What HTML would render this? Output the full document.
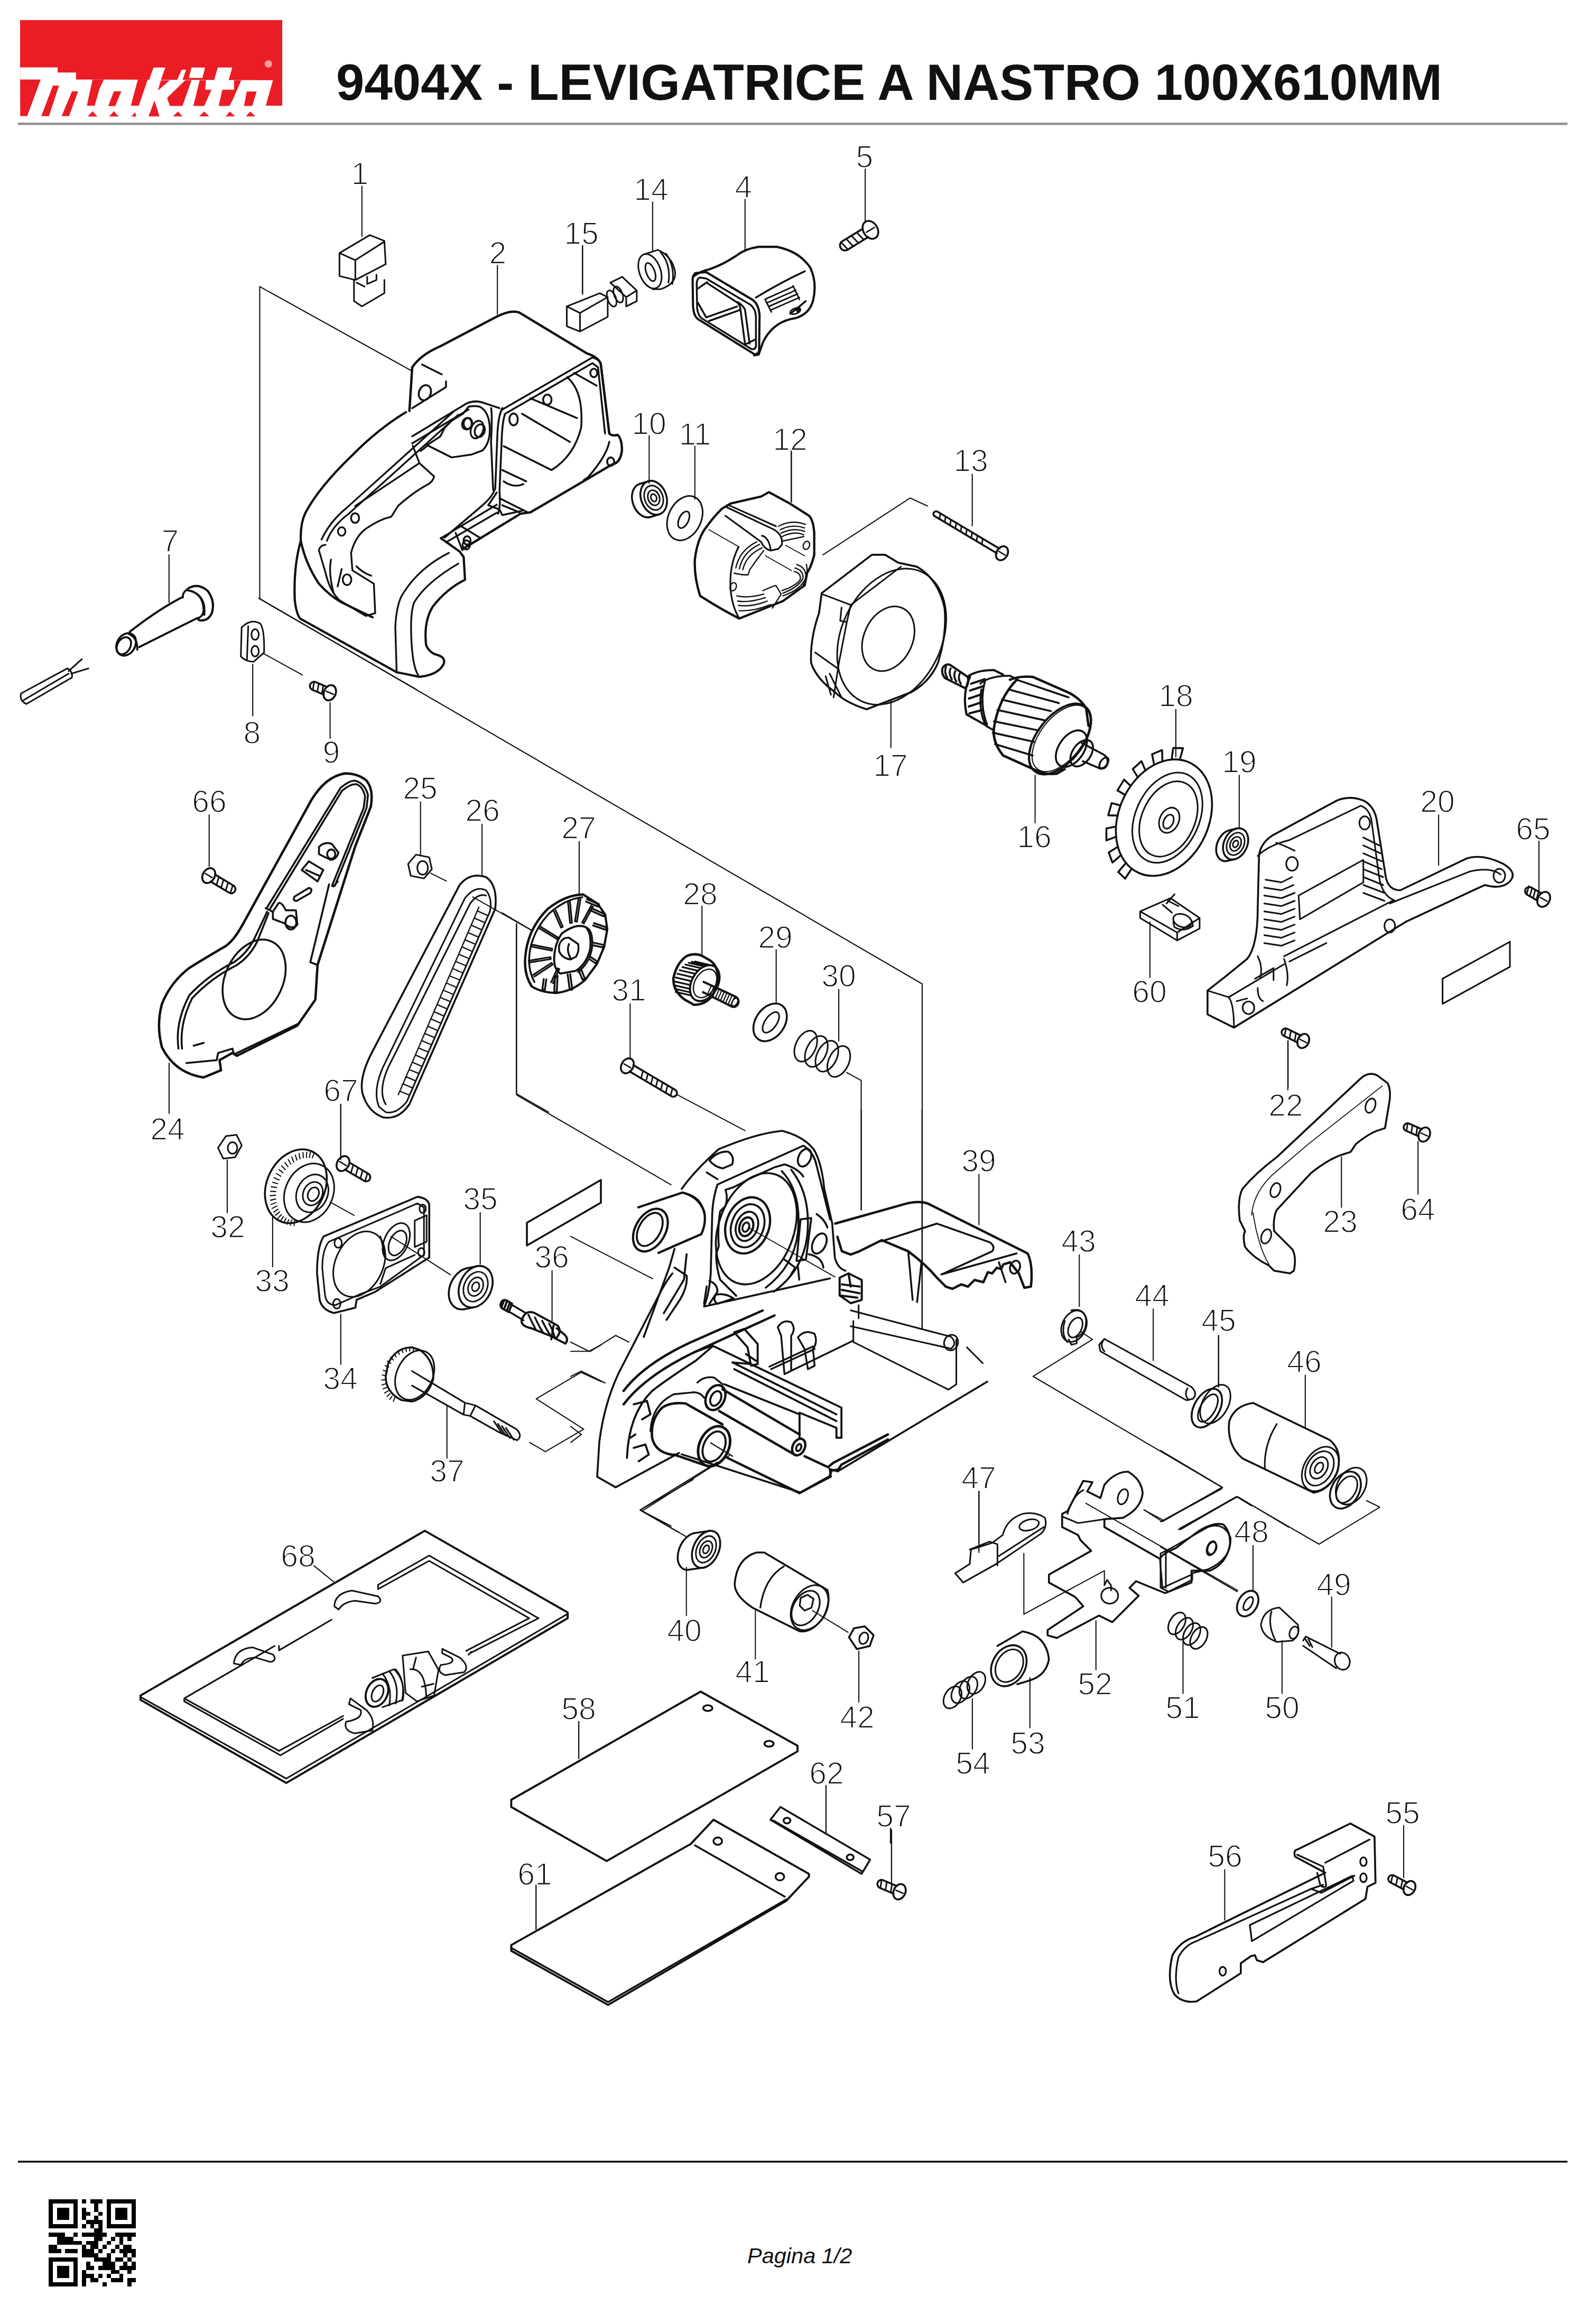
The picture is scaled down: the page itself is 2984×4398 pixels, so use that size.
<!DOCTYPE html>
<html><head><meta charset="utf-8">
<style>
html,body{margin:0;padding:0;background:#fff;}
body{width:2984px;height:4398px;position:relative;overflow:hidden;font-family:"Liberation Sans",sans-serif;}
#title{position:absolute;left:636px;top:101px;font-size:96px;font-weight:bold;color:#111;white-space:nowrap;letter-spacing:0px;}
#pag{position:absolute;left:1414px;top:4245px;font-size:41.5px;font-style:italic;color:#111;white-space:nowrap;}
svg{position:absolute;left:0;top:0;}
</style></head><body>
<svg width="2984" height="4398" viewBox="0 0 2984 4398">
<!-- header line -->
<rect x="34" y="232" width="2932" height="4.6" fill="#939393"/>
<!-- footer line -->
<rect x="34" y="4089" width="2932" height="3.6" fill="#151515"/>
<!-- logo -->
<g>
<rect x="38" y="38" width="496" height="162" fill="#ea1c24"/>
<g fill="#fff">
<polygon points="38.2,127.4 109.1,127.4 109.1,137.3 143.8,137.3 143.8,150.4 516.5,151.8 502.8,200.6 535.4,200.6 535.4,222.0 38.2,218.0"/>
<polygon points="290.5,127.8 312.8,127.8 303.6,153.5 281.3,153.5"/>
<polygon points="362.5,127.8 388.1,127.8 383.0,147.5 357.3,147.5"/>
<polygon points="412.1,127.8 439.5,127.8 432.1,153.5 404.7,153.5"/>
<polygon points="334.4,153.5 343.6,132.1 352.2,132.1 344.6,153.5"/>
</g>
<g fill="#ea1c24">
<polygon points="38.2,150.4 77.0,150.4 51.4,219.7 38.2,219.7"/>
<polygon points="100.1,162.0 111.6,162.0 92.7,219.7 78.1,219.7"/>
<polygon points="136.3,172.7 147.9,172.7 130.6,219.7 116.6,219.7"/>
<polygon points="175.1,150.4 196.5,150.4 188.3,167.8 179.2,199.9 164.4,199.9"/>
<polygon points="215.5,172.7 229.5,172.7 218.0,200.7 204.8,200.7"/>
<polygon points="260.8,150.4 279.6,150.4 262.6,199.9 247.6,199.9"/>
<polygon points="166.0,220.5 175.1,210.6 184.2,220.5"/>
<polygon points="206.4,220.5 215.5,210.6 224.5,220.5"/>
<polygon points="248.5,220.5 255.9,212.3 257.5,220.5"/>
<polygon points="304.4,151.8 321.4,151.8 298.8,171.5"/>
<polygon points="316.2,185.2 350.5,151.8 362.5,151.8 345.3,200.6 321.4,200.6"/>
<polygon points="281.1,220.3 292.3,190.3 301.7,220.3"/>
<polygon points="377.9,151.8 389.8,151.8 388.1,169.8 400.1,169.8 386.4,200.6 365.9,200.6"/>
<polygon points="442.9,151.8 456.6,151.8 441.2,186.9 434.4,200.6 413.8,200.6 420.7,169.8 442.9,169.8"/>
<polygon points="466.9,173.2 485.7,173.2 477.2,200.6 461.8,200.6"/>
<polygon points="327.4,220.3 336.8,210.9 345.3,220.3"/>
<polygon points="377.0,220.3 386.4,210.9 395.8,220.3"/>
<polygon points="426.7,220.3 435.2,210.9 444.6,220.3"/>
<polygon points="465.2,220.3 473.7,210.9 483.2,220.3"/>
</g>
<circle cx="507.8" cy="121" r="7" fill="#f4a0a4"/>
</g>
<!-- QR -->
<g transform="translate(92,4162) scale(7.86)" fill="#000" shape-rendering="crispEdges"><rect x="0" y="0" width="7" height="1"/><rect x="8" y="0" width="1" height="1"/><rect x="10" y="0" width="3" height="1"/><rect x="14" y="0" width="7" height="1"/><rect x="0" y="1" width="1" height="1"/><rect x="6" y="1" width="1" height="1"/><rect x="11" y="1" width="1" height="1"/><rect x="14" y="1" width="1" height="1"/><rect x="20" y="1" width="1" height="1"/><rect x="0" y="2" width="1" height="1"/><rect x="2" y="2" width="3" height="1"/><rect x="6" y="2" width="1" height="1"/><rect x="8" y="2" width="1" height="1"/><rect x="11" y="2" width="1" height="1"/><rect x="14" y="2" width="1" height="1"/><rect x="16" y="2" width="3" height="1"/><rect x="20" y="2" width="1" height="1"/><rect x="0" y="3" width="1" height="1"/><rect x="2" y="3" width="3" height="1"/><rect x="6" y="3" width="1" height="1"/><rect x="8" y="3" width="1" height="1"/><rect x="9" y="3" width="1" height="1"/><rect x="12" y="3" width="1" height="1"/><rect x="14" y="3" width="1" height="1"/><rect x="16" y="3" width="3" height="1"/><rect x="20" y="3" width="1" height="1"/><rect x="0" y="4" width="1" height="1"/><rect x="2" y="4" width="3" height="1"/><rect x="6" y="4" width="1" height="1"/><rect x="8" y="4" width="1" height="1"/><rect x="11" y="4" width="1" height="1"/><rect x="14" y="4" width="1" height="1"/><rect x="16" y="4" width="3" height="1"/><rect x="20" y="4" width="1" height="1"/><rect x="0" y="5" width="1" height="1"/><rect x="6" y="5" width="1" height="1"/><rect x="9" y="5" width="4" height="1"/><rect x="14" y="5" width="1" height="1"/><rect x="20" y="5" width="1" height="1"/><rect x="0" y="6" width="7" height="1"/><rect x="8" y="6" width="1" height="1"/><rect x="10" y="6" width="1" height="1"/><rect x="12" y="6" width="1" height="1"/><rect x="14" y="6" width="7" height="1"/><rect x="11" y="7" width="1" height="1"/><rect x="12" y="7" width="1" height="1"/><rect x="0" y="8" width="4" height="1"/><rect x="6" y="8" width="1" height="1"/><rect x="8" y="8" width="6" height="1"/><rect x="16" y="8" width="4" height="1"/><rect x="20" y="8" width="1" height="1"/><rect x="2" y="9" width="4" height="1"/><rect x="11" y="9" width="1" height="1"/><rect x="12" y="9" width="1" height="1"/><rect x="15" y="9" width="1" height="1"/><rect x="17" y="9" width="1" height="1"/><rect x="19" y="9" width="1" height="1"/><rect x="2" y="10" width="6" height="1"/><rect x="9" y="10" width="3" height="1"/><rect x="14" y="10" width="1" height="1"/><rect x="17" y="10" width="1" height="1"/><rect x="0" y="11" width="1" height="1"/><rect x="1" y="11" width="1" height="1"/><rect x="8" y="11" width="1" height="1"/><rect x="10" y="11" width="1" height="1"/><rect x="11" y="11" width="1" height="1"/><rect x="13" y="11" width="1" height="1"/><rect x="16" y="11" width="1" height="1"/><rect x="18" y="11" width="1" height="1"/><rect x="19" y="11" width="1" height="1"/><rect x="0" y="12" width="3" height="1"/><rect x="4" y="12" width="3" height="1"/><rect x="8" y="12" width="3" height="1"/><rect x="12" y="12" width="1" height="1"/><rect x="15" y="12" width="1" height="1"/><rect x="17" y="12" width="4" height="1"/><rect x="8" y="13" width="4" height="1"/><rect x="14" y="13" width="1" height="1"/><rect x="18" y="13" width="1" height="1"/><rect x="20" y="13" width="1" height="1"/><rect x="0" y="14" width="7" height="1"/><rect x="11" y="14" width="4" height="1"/><rect x="16" y="14" width="1" height="1"/><rect x="17" y="14" width="1" height="1"/><rect x="19" y="14" width="1" height="1"/><rect x="0" y="15" width="1" height="1"/><rect x="6" y="15" width="1" height="1"/><rect x="9" y="15" width="1" height="1"/><rect x="13" y="15" width="3" height="1"/><rect x="18" y="15" width="1" height="1"/><rect x="20" y="15" width="1" height="1"/><rect x="0" y="16" width="1" height="1"/><rect x="2" y="16" width="3" height="1"/><rect x="6" y="16" width="1" height="1"/><rect x="9" y="16" width="1" height="1"/><rect x="10" y="16" width="1" height="1"/><rect x="12" y="16" width="4" height="1"/><rect x="17" y="16" width="4" height="1"/><rect x="0" y="17" width="1" height="1"/><rect x="2" y="17" width="3" height="1"/><rect x="6" y="17" width="1" height="1"/><rect x="8" y="17" width="1" height="1"/><rect x="15" y="17" width="1" height="1"/><rect x="16" y="17" width="1" height="1"/><rect x="19" y="17" width="1" height="1"/><rect x="0" y="18" width="1" height="1"/><rect x="2" y="18" width="3" height="1"/><rect x="6" y="18" width="1" height="1"/><rect x="8" y="18" width="3" height="1"/><rect x="12" y="18" width="1" height="1"/><rect x="14" y="18" width="1" height="1"/><rect x="17" y="18" width="1" height="1"/><rect x="0" y="19" width="1" height="1"/><rect x="6" y="19" width="1" height="1"/><rect x="8" y="19" width="1" height="1"/><rect x="10" y="19" width="1" height="1"/><rect x="11" y="19" width="1" height="1"/><rect x="15" y="19" width="3" height="1"/><rect x="19" y="19" width="1" height="1"/><rect x="20" y="19" width="1" height="1"/><rect x="0" y="20" width="7" height="1"/><rect x="8" y="20" width="1" height="1"/><rect x="13" y="20" width="1" height="1"/><rect x="19" y="20" width="1" height="1"/></g>
<!-- DIAGRAM -->
<g id="diagram" fill="none" stroke="#111" stroke-width="3" stroke-linejoin="round" stroke-linecap="round">
<!-- part 2 housing: lower-left frame Hz [540,780] s=0.25365 -->
<g transform="translate(540,780) scale(0.25365)" stroke-width="13.20">
<path d="M900,0 Q700,120 500,320 Q250,560 150,750 Q110,830 115,960 Q150,1130 250,1280 Q330,1370 420,1420 L650,1530" stroke-width="16.80"/>
<path d="M115,960 Q60,1150 70,1400 Q80,1500 110,1540 L830,1940 L1000,1975 Q1140,1960 1180,1880 Q1200,1830 1130,1810 Q1080,1800 1050,1740 Q1030,1560 1100,1450 Q1200,1320 1340,1250 L1330,1080 L1300,1040 L1160,940" stroke-width="16.80"/>
<path d="M1290,1130 Q1050,1270 960,1420 Q930,1500 940,1700 Q950,1900 990,1960 M1220,1050 Q1000,1160 880,1350 Q830,1420 820,1600 L830,1940"/>
<path d="M270,950 Q330,820 450,720 L1250,0 M310,960 Q350,850 470,760 L1290,20"/>
<path d="M520,700 L1000,380 L1110,480 Q1100,520 1060,540 Q950,600 840,700 L790,780 Q700,800 600,870 Q520,930 490,1050 L500,1180 L660,1280 L670,1500 L600,1520 Q480,1450 400,1400 Q330,1330 300,1200 L250,1030 Q260,990 300,990"/>
<path d="M530,1150 Q580,1200 640,1220 M420,1170 L390,1300 M340,1100 Q320,1200 360,1350 M950,250 L1000,380 M1060,250 L1010,290"/>
<ellipse cx="520" cy="790" rx="30" ry="36"/><ellipse cx="420" cy="890" rx="28" ry="32"/><ellipse cx="460" cy="1250" rx="32" ry="40"/>
<ellipse cx="1430" cy="130" rx="45" ry="68" transform="rotate(20 1430 130)"/><ellipse cx="1360" cy="85" rx="30" ry="40"/><ellipse cx="1350" cy="990" rx="28" ry="34"/>
<path d="M1160,940 L1577,690 M1200,970 L1577,750 M1270,900 L1320,1030"/>
</g>
<!-- part 2 housing: upper-right frame Uz [780,570] s=0.26633 -->
<g transform="translate(780,570) scale(0.26633)" stroke-width="13.20">
<path d="M0,470 Q60,380 200,320 L600,110 Q700,60 760,80 L1240,370 Q1330,400 1340,450 L1400,940 Q1420,960 1460,950 Q1490,980 1490,1060 Q1480,1150 1420,1160 L1250,1260 L840,1500 L770,1510 L360,1760" stroke-width="16.80"/>
<path d="M0,470 L-20,780" stroke-width="16.80"/>
<path d="M70,450 L210,520 M240,570 L240,610 L0,760"/>
<ellipse cx="90" cy="650" rx="42" ry="55" transform="rotate(20 90 650)"/>
<path d="M0,960 L380,730 Q440,700 500,720 L620,760 M0,1010 L400,770"/>
<path d="M640,760 Q610,820 605,950 L590,1330 Q570,1390 500,1450 L230,1680 M560,760 Q570,800 560,1000 L575,1340 M660,800 Q640,850 635,1000 L620,1350 Q630,1450 610,1510"/>
<path d="M640,770 L1280,400 Q1320,410 1340,440 L1400,940 M660,800 L1280,440 L1320,470 L1370,940 M1400,1000 Q1380,1100 1250,1250 L1220,1270"/>
<path d="M1100,540 Q1220,640 1200,900 Q1150,1100 990,1200 L650,1030 M780,800 L1120,1000 M840,690 L1170,830 M640,1200 L810,1280 M650,1280 Q720,1330 790,1300 M1150,510 L1310,600"/>
<ellipse cx="960" cy="700" rx="30" ry="36"/><ellipse cx="720" cy="840" rx="30" ry="42"/><ellipse cx="1290" cy="510" rx="25" ry="30"/><ellipse cx="1410" cy="1140" rx="25" ry="30"/><ellipse cx="390" cy="1700" rx="25" ry="30"/>
<path d="M110,1020 L200,960 L230,900 L280,850 L360,800 L400,750 Q440,740 480,750 Q540,780 550,880 Q560,1000 500,1060 L420,1090 L280,1110 L100,1020"/>
<ellipse cx="390" cy="870" rx="35" ry="42" transform="rotate(20 390 870)"/><ellipse cx="480" cy="920" rx="35" ry="46" transform="rotate(20 480 920)"/>
<path d="M540,1450 L620,1480 L640,1520 L780,1490 M350,1600 L480,1680 M540,1450 L600,1360 M620,1400 L820,1500 M640,1450 L760,1500"/>
</g>
<!-- region A [400,250] x2: part 1, labels 1,2,15, bracket -->
<g transform="translate(400,250) scale(0.4997)" stroke-width="6.00">
<path d="M485,458 L600,390 L655,412 L660,500 L545,560 L485,545 Z M485,458 L545,485 L655,415 M545,485 L545,560"/>
<path d="M540,560 L540,640 L570,660 L655,610 L655,560 M590,548 L590,575 L625,560 L625,540 M550,570 L580,585"/>
<path d="M570,205 L570,395 M1083,505 L1083,690 M1405,430 L1405,610" stroke-width="4.20"/>
<path d="M183,585 L183,1765 M183,585 L760,905" stroke-width="4.20"/>
</g>
<!-- region B [1000,250] x2: 15,14,4,5,10,11 -->
<g transform="translate(1000,250) scale(0.4997)" stroke-width="6.00">
<path d="M205,430 L205,615 M470,265 L470,450 M820,255 L820,445 M1275,140 L1275,340 M457,1150 L457,1330 M630,1190 L630,1390 M995,1210 L995,1400" stroke-width="4.20"/>
<path d="M145,660 L270,610 L300,625 L300,700 L195,755 L145,735 Z M145,660 L195,685 L300,625 M195,685 L195,755"/>
<ellipse cx="315" cy="630" rx="16" ry="32" transform="rotate(-20 315 630)"/>
<ellipse cx="340" cy="615" rx="16" ry="32" transform="rotate(-20 340 615)"/>
<path d="M310,570 L355,548 L410,600 L410,640 L370,660 L370,625 L410,600 M310,570 L370,625"/>
<ellipse cx="460" cy="527" rx="40" ry="68" transform="rotate(-20 460 527)"/>
<ellipse cx="462" cy="530" rx="16" ry="36" transform="rotate(-20 462 530)"/>
<path d="M440,462 L490,446 Q545,470 555,530 Q560,575 500,595 L470,595"/>
<path d="M500,455 Q540,500 530,570 M520,460 Q555,505 545,575"/>
<ellipse cx="592" cy="1462" rx="62" ry="88" transform="rotate(25 592 1462)"/>
<ellipse cx="588" cy="1468" rx="18" ry="34" transform="rotate(25 588 1468)"/>
</g>
<!-- region C [1300,850] x2: 12,13,17,16 -->
<g transform="translate(1300,850) scale(0.4997)" stroke-width="6.00">
<path d="M1080,95 L1080,290 M772,950 L772,1130 M1318,1235 L1318,1415 M395,0 L395,200 M515,400 L845,185 L910,215" stroke-width="4.20"/>
<path d="M510,545 L700,400 L750,400 L800,430 L870,445 Q950,490 975,600 Q985,700 950,810 Q920,880 850,920 L680,985 Q600,960 560,920 Q490,870 470,810 Q465,720 500,620 Z" stroke-width="7.20"/>
<ellipse cx="775" cy="710" rx="190" ry="270" transform="rotate(25 775 710)"/>
<ellipse cx="762" cy="718" rx="92" ry="128" transform="rotate(25 762 718)"/>
<path d="M515,550 L620,590 L810,445 M620,590 L605,655 L580,650 L585,600 M605,655 L575,810 L555,940 M485,770 L570,830 M540,850 L585,940 M525,860 L545,930"/>
</g>
<!-- region D [2080,1270] x2: 18,19,20,60 -->
<g transform="translate(2080,1270) scale(0.4997)" stroke-width="6.00">
<path d="M290,145 L290,325 M530,395 L530,590 M1285,545 L1285,735 M192,950 L192,1160 M715,1400 L715,1577" stroke-width="4.20"/>
<ellipse cx="245" cy="555" rx="170" ry="230" transform="rotate(25 245 555)" stroke-width="7.20"/>
<path d="M123,748 L98,786 L72,761 L101,726 M82,697 L50,725 L36,687 L71,665 M64,627 L27,641 L27,596 L63,589 M69,547 L34,546 L47,500 L80,509 M98,469 L69,452 L94,411 L119,435 M146,402 L127,371 L160,341 L175,377 M208,355 L200,315 L238,299 L239,342 M274,335 L280,291 L317,292 L305,336" stroke-width="7.20"/>
<ellipse cx="258" cy="555" rx="120" ry="180" transform="rotate(25 258 555)"/>
<ellipse cx="262" cy="560" rx="100" ry="150" transform="rotate(25 262 560)"/>
<ellipse cx="265" cy="565" rx="36" ry="50" transform="rotate(25 265 565)"/>
<ellipse cx="262" cy="570" rx="18" ry="28" transform="rotate(25 262 570)"/>
<path d="M410,1210 L480,1155 L560,1090 Q600,1040 600,900 L605,700 Q610,650 660,620 L900,490 Q950,470 1000,490 Q1040,510 1050,560 L1085,780 Q1095,830 1140,830 L1390,710 Q1450,690 1530,730 Q1580,760 1560,790 Q1530,830 1460,810 L1160,950 L510,1350 L410,1300 Z" stroke-width="7.20"/>
<path d="M410,1210 L490,1235 Q510,1260 510,1350 M490,1235 L700,1110 M600,700 Q640,660 720,640 L990,510 Q1020,520 1030,560 L1060,780 Q1070,850 1120,870"/>
<path d="M630,790 L690,800 L730,780 M625,820 L690,830 L735,810 M625,850 L690,860 L740,840 M625,880 L690,890 L740,870 M625,910 L690,920 L740,900 M625,940 L690,950 L740,930 M625,970 L690,980 L740,960 M625,1000 L690,1010 L740,990 M625,1030 L690,1040 L740,1020"/>
<path d="M1000,630 L1060,660 M1000,660 L1065,690 M1000,690 L1070,720 M1000,720 L1070,750 M1000,750 L1075,780 M1000,780 L1075,810 M1000,810 L1080,840 M1000,840 L1080,870"/>
<path d="M755,850 L1000,715 L1000,800 L760,940 Z"/>
<ellipse cx="1005" cy="575" rx="20" ry="25"/><ellipse cx="730" cy="730" rx="22" ry="26"/><ellipse cx="1100" cy="965" rx="20" ry="25"/><ellipse cx="565" cy="1275" rx="22" ry="24"/><ellipse cx="1515" cy="775" rx="22" ry="26"/>
<path d="M1100,880 L1400,760 Q1480,740 1520,770 M700,1080 L1110,870 M720,1100 L860,1030 M600,1080 Q620,1120 610,1160 M700,1090 Q720,1150 710,1190"/>
<path d="M590,1165 L660,1125 L660,1170 M600,1200 Q600,1240 620,1250 M520,1250 L560,1240"/>
<path d="M670,650 Q700,660 740,680" />
<path d="M1300,1165 L1555,1025 L1555,1120 L1300,1260 Z"/>
<path d="M155,910 L270,860 L380,935 L380,975 L295,1020 L155,935 Z M155,910 L295,990 L380,935 M295,990 L295,1020"/>
<ellipse cx="315" cy="945" rx="36" ry="24" transform="rotate(20 315 945)"/>
<path d="M280,950 L285,970 Q320,990 355,965 L350,945 M255,880 L285,845 M240,885 L275,915 M260,870 L300,890"/>
</g>
<!-- region E [0,980] x2: 7,8,9,66, wire -->
<g transform="translate(0,980) scale(0.4997)" stroke-width="6.00">
<path d="M640,140 L640,320 M957,555 L957,750 M1250,700 L1250,835 M792,1125 L792,1320 M1000,515 L1145,595" stroke-width="4.20"/>
<path d="M980,305 L1577,650" stroke-width="4.20"/>
<path d="M80,665 L255,570 Q278,585 272,605 L100,705 Q72,692 80,665 Z M90,690 L260,590 M260,580 L310,535 M270,590 L335,570"/>
<path d="M915,415 Q950,380 985,400 Q1002,420 1000,510 L960,545 Q930,545 912,525 Z M940,410 L935,540"/>
<ellipse cx="966" cy="442" rx="14" ry="20"/><ellipse cx="966" cy="505" rx="14" ry="20"/>
</g>
<!-- region F [250,1430] x2: 24,25,26 -->
<g transform="translate(250,1430) scale(0.4997)" stroke-width="6.00">
<path d="M1092,175 L1092,375 M1325,260 L1325,455 M140,1165 L140,1355 M790,1320 L790,1530 M1130,445 L1190,475 M1290,535 L1510,660 M1455,640 L1455,1280 L1577,1350" stroke-width="4.20"/>
<path d="M1045,410 L1075,375 L1125,385 L1135,430 L1105,465 L1055,455 Z"/>
<ellipse cx="1100" cy="425" rx="20" ry="26"/>
<path d="M880,1300 Q850,1240 905,1130 L1240,490 Q1280,440 1340,460 Q1385,490 1375,580 L1050,1320 Q1010,1380 950,1370 Q900,1350 880,1300 Z" stroke-width="7.20"/>
<path d="M935,1330 Q910,1270 950,1180 L1260,540 Q1300,490 1340,510 Q1365,540 1355,590 L1040,1310 Q1000,1360 960,1350 Z"/>
<path d="M960,1320 Q930,1270 970,1180 L1280,560 Q1310,520 1340,530"/>
<path d="M1344,604 L1307,588 M1332,631 L1296,615 M1321,658 L1284,642 M1309,686 L1272,670 M1297,713 L1260,697 M1285,740 L1249,724 M1274,768 L1237,752 M1262,795 L1225,779 M1250,822 L1214,806 M1239,849 L1202,834 M1227,877 L1190,861 M1215,904 L1178,888 M1203,931 L1167,916 M1192,959 L1155,943 M1180,986 L1143,970 M1168,1013 L1131,997 M1156,1041 L1120,1025 M1145,1068 L1108,1052 M1133,1095 L1096,1079 M1121,1122 L1084,1107 M1110,1150 L1073,1134 M1098,1177 L1061,1161 M1086,1204 L1049,1189 M1074,1232 L1038,1216 M1063,1259 L1026,1243 M1051,1286 L1014,1271 M1313,574 L1008,1284" stroke-width="4.80"/>
</g>
<!-- region G [950,1550] x2: 27,28,29,30,31 -->
<g transform="translate(950,1550) scale(0.4997)" stroke-width="6.00">
<path d="M292,85 L292,290 M757,330 L757,515 M1038,495 L1038,700 M1275,645 L1275,840 M485,700 L485,905" stroke-width="4.20"/>
<path d="M0,355 L110,420 M55,395 L55,1045 L640,1385 M665,1045 L920,1180 M1305,960 L1360,990 L1360,1480" stroke-width="4.20"/>
<ellipse cx="1015" cy="770" rx="55" ry="78" transform="rotate(35 1015 770)" stroke-width="7.20"/>
<ellipse cx="1018" cy="770" rx="22" ry="45" transform="rotate(35 1018 770)"/>
<ellipse cx="1150" cy="860" rx="38" ry="62" transform="rotate(25 1150 860)"/>
<ellipse cx="1190" cy="880" rx="38" ry="62" transform="rotate(25 1190 880)"/>
<ellipse cx="1230" cy="898" rx="38" ry="62" transform="rotate(25 1230 898)"/>
<ellipse cx="1275" cy="918" rx="38" ry="62" transform="rotate(25 1275 918)"/>
</g>
<!-- region H [2196,1900] x2: 23, 64 -->
<g transform="translate(2196,1900) scale(0.4997)" stroke-width="6.00">
<path d="M482,140 L482,325 M685,580 L685,770 M975,520 L975,720" stroke-width="4.20"/>
<path d="M300,820 Q290,740 310,700 Q360,640 440,580 L760,280 Q790,255 820,270 L860,300 Q875,330 865,380 L850,470 L820,480 Q790,490 740,530 L720,560 L690,570 Q640,585 570,640 L440,780 Q425,810 430,860 L500,930 Q515,960 505,1010 L490,1020 L430,1010 L410,990 Q350,960 320,920 Q310,880 320,860 Z" stroke-width="7.20"/>
<path d="M345,800 Q350,720 420,650 L560,530 L840,310 M350,790 Q370,920 410,985" stroke-width="3.60"/>
<ellipse cx="795" cy="385" rx="18" ry="28" transform="rotate(20 795 385)"/>
<ellipse cx="435" cy="705" rx="18" ry="28" transform="rotate(20 435 705)"/>
<ellipse cx="400" cy="880" rx="18" ry="28" transform="rotate(20 400 880)"/>
</g>
<!-- region I [350,2080] x2: 32,33,67,34,35,36,37 -->
<g transform="translate(350,2080) scale(0.4997)" stroke-width="6.00">
<path d="M160,230 L160,430 M332,445 L332,635 M590,815 L590,1005 M1118,430 L1118,625 M1390,650 L1390,845 M992,1160 L992,1360 M590,20 L590,220 M550,390 L640,440 M780,520 L1005,665 M1460,920 L1530,955 L1577,930 M1305,1300 L1365,1335 L1510,1250 L1330,1135 L1500,1035 L1577,1070" stroke-width="4.20"/>
<path d="M125,185 L155,140 L195,135 L215,175 L190,220 L145,225 Z"/>
<ellipse cx="180" cy="185" rx="18" ry="22"/>
<ellipse cx="420" cy="330" rx="110" ry="145" transform="rotate(25 420 330)" stroke-width="7.20"/>
<ellipse cx="470" cy="355" rx="90" ry="115" transform="rotate(25 470 355)"/>
<path d="M415,459 L413,479 M404,458 L399,478 M393,456 L386,474 M383,451 L373,469 M373,445 L362,461 M365,437 L352,452 M358,427 L343,440 M352,417 L336,428 M348,405 L330,414 M345,392 L326,399 M343,378 L324,383 M343,364 L323,366 M344,350 L324,349 M347,335 L327,332 M351,320 L332,315 M357,306 L338,298 M363,292 L346,282 M371,279 L356,267 M380,267 L366,253 M390,256 L378,240 M401,246 L391,229 M412,238 L404,219 M424,231 L418,212 M436,226 L432,206 M448,222 L447,202 M460,221 L461,201 M471,221 L475,201 M482,223 L489,204" stroke-width="4.20"/>
<ellipse cx="482" cy="357" rx="58" ry="74" transform="rotate(25 482 357)"/>
<ellipse cx="484" cy="358" rx="36" ry="46" transform="rotate(25 484 358)"/>
<ellipse cx="486" cy="360" rx="20" ry="27" transform="rotate(25 486 360)"/>
<path d="M525,520 L880,370 Q920,375 925,400 L925,600 L720,730 L650,760 L645,790 L565,810 Q520,800 510,760 L500,660 Q500,560 525,520 Z" stroke-width="7.20"/>
<path d="M545,540 L880,395 L905,410 L905,590 L740,710 L660,740 L570,780 Q535,780 530,740 L520,640 Q520,570 545,540 Z"/>
<ellipse cx="660" cy="625" rx="90" ry="130" transform="rotate(25 660 625)"/>
<ellipse cx="580" cy="545" rx="14" ry="18"/><ellipse cx="900" cy="415" rx="12" ry="16"/><ellipse cx="575" cy="775" rx="14" ry="18"/><ellipse cx="895" cy="580" rx="12" ry="16"/>
<ellipse cx="800" cy="540" rx="45" ry="75" transform="rotate(25 800 540)"/>
<ellipse cx="805" cy="545" rx="30" ry="50" transform="rotate(25 805 545)"/>
<path d="M870,460 L915,440 L915,540 L870,560 Z M740,700 L760,640 L870,590 M740,520 L760,600"/>
<path d="M770,1000 Q800,940 860,940 L890,950 Q945,990 940,1060 Q920,1130 860,1145 L820,1140 Q760,1110 760,1050 Z" stroke-width="7.20"/>
<ellipse cx="870" cy="1045" rx="68" ry="98" transform="rotate(25 870 1045)"/>
<path d="M795,1131 L789,1145 M784,1125 L776,1137 M776,1116 L765,1126 M769,1105 L756,1113 M763,1092 L750,1098 M761,1078 L746,1082 M760,1062 L745,1064 M762,1047 L747,1045 M766,1031 L751,1027 M772,1015 L758,1009 M779,1001 L767,992 M789,988 L779,977 M800,976 L792,964 M812,967 L806,953 M825,960 L821,946 M838,956 L837,941 M851,954 L852,939 M864,955 L867,941" stroke-width="4.20"/>
<path d="M860,1030 L1060,1150 L1100,1160 L1255,1250 Q1280,1275 1258,1292 L1190,1262 L1080,1200 L1055,1195 L860,1085 M1060,1150 L1055,1195 M1100,1160 L1080,1200 M1170,1220 L1200,1265 M1185,1230 L1215,1275 M1200,1238 L1230,1283 M1215,1245 L1245,1290" />
</g>
<!-- region J [1080,2100] x2: main body -->
<g transform="translate(1080,2100) scale(0.4997)" stroke-width="6.00">
<path d="M0,480 L310,640 M0,915 L75,915 L170,855 L220,880 M0,1010 L40,990 L130,1035 M270,1520 L600,1310 M270,1520 L380,1577 M0,1200 L40,1230 L0,1260 M1100,0 L1100,380 M1330,0 L1330,830" stroke-width="4.20"/>

<path d="M100,1390 L108,1260 Q125,1120 180,1000 L335,700 Q360,650 385,620 M420,300 Q470,230 560,150 Q700,90 800,80 Q880,100 920,150 Q950,200 960,300 L990,430 L1000,560 Q1010,600 1040,610" stroke-width="7.20"/>
<path d="M100,1390 L170,1430 L410,1300 M420,1305 L870,1450 L985,1390 L980,1360 L1010,1370 L1577,1030" stroke-width="7.20"/>

<path d="M1060,760 L1440,860 Q1465,885 1440,905 L1060,820 M1070,800 L1070,880 L1430,1060 L1460,1040 L1460,870 M1090,740 L1090,790 M1500,900 L1560,960"/>
<ellipse cx="1440" cy="882" rx="26" ry="30" transform="rotate(20 1440 882)"/>
</g>
<!-- long bracket lines in src coords -->
<path d="M997,2314 L1137,2233 L1137,2276 L997,2357 Z" stroke-width="3.60"/>
<path d="M490,1132 L1745,1862 L1745,2515" stroke-width="2.16"/>
<!-- region K [1580,2150] x2: 39,43,44,45 -->
<g transform="translate(1580,2150) scale(0.4997)" stroke-width="6.00">
<path d="M545,145 L545,335 M925,450 L925,645 M1205,655 L1205,850 M1452,755 L1452,950 M545,1345 L545,1577 M930,740 L975,770 L750,910 L1465,1330 L1240,1460 L1170,1415 M1300,1490 L1520,1365 L1577,1400" stroke-width="4.20"/>
<path d="M895,660 Q940,650 950,690 Q955,740 920,760 M880,780 Q855,750 870,700 M885,770 L895,790 L915,785 L915,760"/>
<ellipse cx="905" cy="720" rx="45" ry="62" transform="rotate(25 905 720)"/>
<ellipse cx="910" cy="725" rx="24" ry="40" transform="rotate(25 910 725)"/>
<path d="M1000,790 L1020,768 L1350,950 Q1375,975 1355,995 L1330,1000 L1005,815 Z M1020,768 Q1000,790 1020,815 M1335,955 Q1320,980 1340,1000"/>
<ellipse cx="1408" cy="1030" rx="48" ry="80" transform="rotate(30 1408 1030)" stroke-width="7.20"/>
<ellipse cx="1440" cy="1015" rx="48" ry="80" transform="rotate(30 1440 1015)"/>
<ellipse cx="1412" cy="1030" rx="28" ry="58" transform="rotate(30 1412 1030)"/>
</g>
<!-- region L [2196,2500] x2: 46, ring, 48,49,50,51 -->
<g transform="translate(2196,2500) scale(0.4997)" stroke-width="6.00">
<path d="M220,55 L220,250 M548,205 L548,400 M350,850 L350,1020 M648,1045 L648,1235 M85,1215 L85,1410 M460,1210 L460,1410 M0,490 L235,630 L0,760 M75,790 L290,665 L600,845 L830,705 L780,680 M0,855 L290,1025" stroke-width="4.20"/>
<path d="M260,380 Q280,320 350,310 L640,450 Q690,490 670,570 Q640,640 580,650 L310,520 Q250,470 260,380 Z" stroke-width="7.20"/>
<path d="M440,390 Q390,470 395,560"/>
<ellipse cx="605" cy="560" rx="62" ry="90" transform="rotate(30 605 560)"/>
<ellipse cx="602" cy="558" rx="48" ry="70" transform="rotate(30 602 558)"/>
<ellipse cx="600" cy="556" rx="30" ry="44" transform="rotate(30 600 556)"/>
<ellipse cx="600" cy="556" rx="14" ry="22" transform="rotate(30 600 556)"/>
<ellipse cx="700" cy="640" rx="52" ry="75" transform="rotate(30 700 640)" stroke-width="7.20"/>
<ellipse cx="722" cy="625" rx="52" ry="75" transform="rotate(30 722 625)"/>
<ellipse cx="705" cy="638" rx="34" ry="55" transform="rotate(30 705 638)"/>
<path d="M0,1010 L0,880 L40,860 L180,780 Q240,760 265,820 Q270,900 180,940 L120,955 L120,980 L30,1025 Z M20,870 L20,1010"/>
<ellipse cx="195" cy="860" rx="16" ry="24" transform="rotate(20 195 860)"/>
<ellipse cx="330" cy="1070" rx="36" ry="52" transform="rotate(30 330 1070)" stroke-width="7.20"/>
<ellipse cx="332" cy="1070" rx="14" ry="28" transform="rotate(30 332 1070)"/>
<path d="M380,1150 Q390,1090 450,1085 L520,1150 Q530,1190 500,1210 L440,1215 Q385,1195 380,1150 Z M420,1100 Q405,1150 435,1210" stroke-width="6.00"/>
<ellipse cx="505" cy="1180" rx="16" ry="24" transform="rotate(20 505 1180)"/>
<path d="M540,1210 L550,1195 L680,1260 M540,1230 L665,1315 M545,1200 L565,1230 M560,1205 L575,1235"/>
<ellipse cx="688" cy="1288" rx="28" ry="33" transform="rotate(-20 688 1288)"/>
<ellipse cx="62" cy="1145" rx="28" ry="45" transform="rotate(30 62 1145)"/>
<ellipse cx="90" cy="1165" rx="28" ry="45" transform="rotate(30 90 1165)"/>
<ellipse cx="118" cy="1185" rx="28" ry="45" transform="rotate(30 118 1185)"/>
<ellipse cx="145" cy="1200" rx="28" ry="45" transform="rotate(30 145 1200)"/>
</g>
<!-- region M [1650,2700] x2: 47,52,53,54 -->
<g transform="translate(1650,2700) scale(0.4997)" stroke-width="6.00">
<path d="M405,245 L405,440 M848,735 L848,920 M598,950 L598,1140 M380,1030 L380,1220 M70,1520 L70,1577 M575,480 L575,710 L880,545 L880,600 M1030,315 L1105,355 L1325,235 M1165,385 L1385,265 L1577,380 M810,290 L1385,620" stroke-width="4.20"/>
<path d="M315,555 L345,590 L470,520 L640,405 Q665,380 655,345 Q620,320 570,330 Q510,350 495,410 L455,440 L375,465 L370,520 Z M370,465 L445,435 L475,445 L475,525 M480,490 L650,380" stroke-width="6.00"/>
<ellipse cx="595" cy="372" rx="38" ry="20" transform="rotate(-15 595 372)"/>
<path d="M720,330 L740,320 L800,205 L835,210 L815,245 L865,270 L880,220 Q920,170 970,170 Q1020,200 1025,250 Q1020,310 950,345 L880,350 L880,380 L1090,500 Q1100,480 1150,460 L1230,400 Q1290,360 1330,370 Q1360,400 1355,450 Q1340,520 1280,545 L1210,545 L1210,590 L1110,630 L1000,585 L975,610 L1010,640 L910,740 L860,715 L700,800 L665,790 L665,770 L800,680 L770,645 L670,590 L670,560 L830,470 L790,430 L780,410 L720,380 Z" stroke-width="7.20"/>
<path d="M720,340 L780,365 L880,350 M1090,500 L1100,610 L1210,560 M740,330 Q760,260 800,240"/>
<ellipse cx="950" cy="265" rx="18" ry="30" transform="rotate(20 950 265)"/>
<ellipse cx="1285" cy="460" rx="16" ry="28" transform="rotate(20 1285 460)"/>
<ellipse cx="900" cy="640" rx="32" ry="30"/>
<path d="M880,600 L890,580 L905,600 L905,620"/>
<path d="M475,830 L570,775 Q660,790 670,880 Q660,940 600,960 L550,975" stroke-width="7.20"/>
<ellipse cx="518" cy="905" rx="62" ry="82" transform="rotate(30 518 905)" stroke-width="7.20"/>
<ellipse cx="520" cy="905" rx="48" ry="66" transform="rotate(30 520 905)"/>
<ellipse cx="305" cy="1025" rx="30" ry="45" transform="rotate(30 305 1025)"/>
<ellipse cx="335" cy="1005" rx="30" ry="45" transform="rotate(30 335 1005)"/>
<ellipse cx="365" cy="988" rx="30" ry="45" transform="rotate(30 365 988)"/>
<ellipse cx="395" cy="970" rx="30" ry="45" transform="rotate(30 395 970)"/>
</g>
<!-- region N [230,2850] s=0.5517: 68 -->
<g transform="translate(230,2850) scale(0.5517)" stroke-width="5.40">
<path d="M660,205 L730,262" stroke-width="3.84"/>
<path d="M65,650 L1040,85 L1530,365 L1530,385 L565,950 L65,665 Z" stroke-width="7.20"/>
<path d="M65,655 L565,935 L1530,370"/>
<path d="M215,660 L540,840 L760,720 M760,730 L545,855 L215,670 L215,660 M215,660 L525,480 M540,495 L720,390 M880,270 L1055,170 L1430,385 L1195,505 M880,285 L1055,188 L1398,385 L1182,497 M880,270 L880,285 M540,480 L540,495 M1190,510 L1200,500"/>
<path d="M385,540 Q390,490 450,485 L520,510 Q535,530 510,535 L460,520 Q420,520 410,545 Z"/>
<path d="M730,345 Q730,300 790,290 L880,310 Q900,330 870,335 L800,325 Q760,330 745,355 Z"/>
<path d="M785,660 L840,700 Q870,730 860,770 L800,780 Q760,770 770,740 Q830,730 820,700 L780,680 Z"/>
<path d="M1100,490 L1160,520 Q1195,550 1175,570 L1110,580 Q1080,570 1095,545 Q1150,540 1130,520 L1100,505 Z"/>
<ellipse cx="876" cy="641" rx="36" ry="50" transform="rotate(25 876 641)" stroke-width="7.20"/>
<ellipse cx="878" cy="643" rx="18" ry="30" transform="rotate(25 878 643)"/>
<path d="M860,590 L935,560 Q975,600 965,665 L895,690 M895,575 Q930,620 918,684 M918,566 Q955,612 940,678 M940,560 Q975,600 962,668"/>
<path d="M964,513 L1052,499 L1087,562 L1072,650 L1013,670 L974,641 Z M990,560 Q1040,555 1045,650 M1010,520 L1000,560 M1030,620 L1070,610"/>
</g>
<!-- region O [1200,2800] s=0.37286: 40,41,42 -->
<g transform="translate(1200,2800) scale(0.37286)" stroke-width="8.40">
<path d="M265,445 L265,690 M615,665 L615,910 M1140,870 L1140,1130 M905,665 L1085,775 M30,155 L265,290 M30,155 L300,0" stroke-width="5.40"/>
<path d="M510,530 Q520,400 620,370 L660,370 L980,560 Q1000,620 960,700 Q900,780 840,770 L600,650 Q510,590 510,530 Z" stroke-width="9.60"/>
<path d="M760,440 Q660,500 640,650"/>
<ellipse cx="890" cy="650" rx="85" ry="122" transform="rotate(30 890 650)"/>
<ellipse cx="870" cy="652" rx="62" ry="95" transform="rotate(30 870 652)"/>
<path d="M845,600 L880,585 L910,605 L900,650 L865,665 L840,640 Z"/>
<path d="M1090,800 L1115,755 L1170,745 L1215,790 L1195,845 L1130,860 Z" stroke-width="9.60"/>
<ellipse cx="1165" cy="805" rx="22" ry="30" transform="rotate(20 1165 805)"/>
</g>
<!-- region P [900,3150] s=0.539: 58,61,62,57 -->
<g transform="translate(900,3150) scale(0.539)" stroke-width="6.60">
<path d="M362,200 L362,330 M212,775 L212,930 M1230,425 L1230,590 M1460,580 L1460,770" stroke-width="4.20"/>
<path d="M125,475 L790,95 L1130,285 L1130,305 L460,690 L125,500 Z" stroke-width="7.20"/>
<ellipse cx="815" cy="153" rx="16" ry="10"/><ellipse cx="1030" cy="278" rx="16" ry="10"/>
<path d="M125,985 L755,630 L835,545 L1170,735 L1170,745 L1090,830 L465,1195 L125,1005 Z" stroke-width="7.20"/>
<path d="M770,635 L1085,815 M125,995 L465,1185 L1090,825"/>
<ellipse cx="850" cy="620" rx="15" ry="13"/><ellipse cx="1068" cy="745" rx="15" ry="13"/>
<path d="M1035,545 L1070,500 L1385,685 L1355,735 Z M1045,548 L1355,725"/>
<ellipse cx="1093" cy="548" rx="12" ry="10"/><ellipse cx="1315" cy="677" rx="12" ry="10"/>
</g>
<!-- region Q [2150,3350] s=0.38047: 56,55 -->
<g transform="translate(2150,3350) scale(0.38047)" stroke-width="8.40">
<path d="M440,495 L440,745 M1330,275 L1330,535" stroke-width="5.40"/>
<path d="M190,1115 Q150,1050 180,920 Q220,850 290,830 L940,510 L790,430 Q780,400 800,395 L1065,265 L1185,330 L1190,560 L1150,580 L1140,640 L630,955 L600,945 L590,920 L570,925 L520,960 L520,1010 L300,1150 Q230,1160 190,1115 Z" stroke-width="9.60"/>
<path d="M210,1110 Q185,1040 210,930 Q240,870 300,850 L870,590 L920,610 L1085,525 M565,770 L1075,525 L1080,550 L575,850 Z M800,420 L930,480 L945,575 Q930,590 915,570 L900,510 M940,460 L1160,345 M870,590 L930,570"/>
<ellipse cx="1130" cy="455" rx="16" ry="22"/><ellipse cx="1130" cy="535" rx="16" ry="22"/><ellipse cx="430" cy="1000" rx="16" ry="22"/>
</g>
<!-- part 16 armature, frame [1760,1240] s=0.2156 -->
<g transform="translate(1760,1240) scale(0.2156)" stroke-width="16.80">
<path d="M110,110 Q140,70 175,85 L330,190 Q345,240 310,290 L130,200 Q95,160 110,110 Z" stroke-width="19.20"/>
<path d="M140,100 Q120,150 150,195 M180,115 Q160,160 190,210 M220,140 Q200,185 230,230 M260,160 Q240,205 270,250"/>
<path d="M340,180 Q420,130 560,130 L640,170 M320,520 Q280,330 350,190 M320,520 L480,610 M360,250 L480,210 M350,310 L470,270 M340,380 L460,340 M340,450 L460,410 M345,510 L460,480" stroke-width="19.20"/>
<path d="M440,250 Q520,180 700,180 L770,215 M450,300 Q420,480 490,620 L560,660 M480,230 Q430,430 500,610"/>
<path d="M700,215 Q780,180 900,190 L1220,330 Q1330,390 1370,470 L1390,620 M760,215 Q600,380 560,640 Q545,760 640,880 L930,1010 Q1000,1050 1110,1040 L1180,1000" stroke-width="21.60"/>
<ellipse cx="1140" cy="735" rx="200" ry="360" transform="rotate(38 1140 735)" stroke-width="19.20"/>
<ellipse cx="1150" cy="730" rx="185" ry="340" transform="rotate(38 1150 730)" stroke-width="9.60"/>
<path d="M760,215 L1215,370 M690,300 L1130,420 M630,390 L1060,490 M590,480 L1000,570 M560,580 L950,660 M550,680 L910,760 M570,780 L900,880"/>
<ellipse cx="1240" cy="820" rx="110" ry="180" transform="rotate(35 1240 820)"/>
<ellipse cx="1330" cy="860" rx="80" ry="130" transform="rotate(35 1330 860)"/>
<path d="M1330,770 L1520,870 Q1570,900 1555,960 Q1530,1010 1480,990 L1340,930"/>
<ellipse cx="1525" cy="945" rx="30" ry="55" transform="rotate(35 1525 945)"/>
</g>
<!-- part 12 field, frame [1300,910] s=0.16487 -->
<g transform="translate(1300,910) scale(0.16487)" stroke-width="21.60">
<path d="M230,520 Q300,420 400,320 L500,260 L850,180 L940,130 L1180,260 L1400,400 Q1450,450 1460,600 L1460,850 Q1420,1000 1380,1050 L1350,1200 L1100,1380 L600,1580 Q400,1480 150,1320 Q80,1100 90,900 Q120,650 230,520 Z" stroke-width="26.40"/>
<path d="M590,760 Q480,980 500,1250 Q520,1450 600,1580" stroke-width="19.20"/>
<path d="M250,560 L600,760 M900,860 L1200,1030 M1130,740 L1350,860" stroke-width="10.80"/>
<path d="M450,300 L1000,560 Q1100,620 1090,730 L1050,780 L960,800 Q880,780 850,700 L440,400 M480,280 L1020,520 M860,630 Q940,650 960,790" stroke-width="19.20"/>
<path d="M1050,520 Q1200,440 1360,500 M1070,560 Q1210,490 1350,540 M1080,600 Q1220,530 1350,580 M1090,640 Q1230,570 1340,620 M1100,690 L1340,640" stroke-width="14.40"/>
<path d="M1260,960 Q1380,1000 1360,1120 Q1300,1250 1100,1320 M1240,1000 Q1340,1030 1330,1120 Q1280,1220 1100,1290 M1230,1040 Q1310,1060 1300,1130 Q1260,1200 1090,1260 M1370,960 Q1400,1100 1330,1200" stroke-width="14.40"/>
<path d="M570,1320 Q700,1350 880,1300 M580,1380 Q720,1400 900,1340 M590,1430 Q740,1450 920,1380 M600,1490 Q760,1500 960,1420 M870,1260 Q960,1220 1020,1200 L1080,1300 L980,1460" stroke-width="14.40"/>
<path d="M560,1000 Q600,800 800,700 M600,1010 Q640,820 830,730 M640,1020 Q680,850 860,770 M540,1060 Q620,1080 700,1080 L720,1020 Q800,900 880,800" stroke-width="14.40"/>
<ellipse cx="1370" cy="740" rx="35" ry="48" transform="rotate(20 1370 740)" stroke-width="14.40"/>
<ellipse cx="530" cy="1215" rx="35" ry="48" transform="rotate(20 530 1215)" stroke-width="14.40"/>
</g>
<!-- screws src coords -->
<g stroke-width="3.60">
<path d="M2917.1,1690.7 L2896.7,1679.1 A7.9,7.9 0 0 0 2888.9,1692.7 L2909.3,1704.4" stroke-width="3.60"/>
<path d="M2911.4,1687.4 L2907.0,1703.1 M2905.2,1683.9 L2900.9,1699.6 M2899.1,1680.4 L2894.8,1696.1 M2893.0,1676.9 L2888.6,1692.6" stroke-width="2.88"/>
<ellipse cx="2921.0" cy="1702.0" rx="11.2" ry="15.0" transform="rotate(-150.3 2921.0 1702.0)" stroke-width="3.60"/>
<path d="M2927.5,1705.7 L2914.5,1698.3" stroke-width="2.52"/>
<path d="M1632.9,432.6 L1593.1,457.0 A9.5,9.5 0 0 0 1603.0,473.1 L1642.7,448.7" stroke-width="3.60"/>
<path d="M1621.1,439.8 L1634.4,453.8 M1611.1,445.9 L1624.4,459.9 M1601.2,452.1 L1614.5,466.1 M1591.2,458.2 L1604.5,472.2" stroke-width="2.88"/>
<ellipse cx="1647.0" cy="435.0" rx="13.5" ry="18.0" transform="rotate(148.4 1647.0 435.0)" stroke-width="3.60"/>
<path d="M1654.7,430.3 L1639.3,439.7" stroke-width="2.52"/>
<path d="M618.9,1300.2 L597.4,1290.9 A7.9,7.9 0 0 0 591.1,1305.4 L612.6,1314.7" stroke-width="3.60"/>
<path d="M611.7,1297.1 L609.1,1313.2 M603.1,1293.4 L600.5,1309.4 M594.5,1289.6 L591.9,1305.7" stroke-width="2.88"/>
<ellipse cx="624.0" cy="1311.0" rx="11.2" ry="15.0" transform="rotate(-156.6 624.0 1311.0)" stroke-width="3.60"/>
<path d="M630.9,1314.0 L617.1,1308.0" stroke-width="2.52"/>
<path d="M398.7,1668.4 L434.2,1689.7 A7.9,7.9 0 0 0 442.3,1676.2 L406.8,1654.9" stroke-width="3.60"/>
<path d="M409.5,1674.9 L414.2,1659.3 M418.3,1680.2 L423.0,1664.6 M427.0,1685.4 L431.7,1669.8 M435.8,1690.7 L440.5,1675.1" stroke-width="2.88"/>
<ellipse cx="395.0" cy="1657.0" rx="11.2" ry="15.0" transform="rotate(31.0 395.0 1657.0)" stroke-width="3.60"/>
<path d="M388.6,1653.1 L401.4,1660.9" stroke-width="2.52"/>
<path d="M652.8,2213.4 L689.2,2234.8 A7.9,7.9 0 0 0 697.2,2221.2 L660.8,2199.8" stroke-width="3.60"/>
<path d="M663.9,2219.9 L668.5,2204.3 M672.9,2225.2 L677.4,2209.6 M681.8,2230.4 L686.3,2214.8 M690.7,2235.7 L695.3,2220.1" stroke-width="2.88"/>
<ellipse cx="649.0" cy="2202.0" rx="11.2" ry="15.0" transform="rotate(30.5 649.0 2202.0)" stroke-width="3.60"/>
<path d="M642.5,2198.2 L655.5,2205.8" stroke-width="2.52"/>
<path d="M1191.2,2027.6 L1270.4,2074.5 A7.0,7.0 0 0 0 1277.5,2062.4 L1198.3,2015.6" stroke-width="3.60"/>
<path d="M1213.1,2040.5 L1216.7,2026.5 M1222.4,2046.0 L1226.0,2032.0 M1231.7,2051.5 L1235.3,2037.5 M1241.0,2057.0 L1244.6,2043.0 M1250.3,2062.5 L1253.9,2048.5 M1259.6,2068.0 L1263.2,2054.0 M1268.9,2073.5 L1272.5,2059.5" stroke-width="2.88"/>
<ellipse cx="1187.0" cy="2017.0" rx="11.2" ry="15.0" transform="rotate(30.6 1187.0 2017.0)" stroke-width="3.60"/>
<path d="M1180.5,2013.2 L1193.5,2020.8" stroke-width="2.52"/>
<path d="M2461.7,1959.7 L2434.8,1946.6 A7.4,7.4 0 0 0 2428.4,1959.8 L2455.2,1972.9" stroke-width="3.60"/>
<path d="M2452.4,1955.2 L2449.5,1970.1 M2442.8,1950.5 L2440.0,1965.5 M2433.3,1945.9 L2430.4,1960.8" stroke-width="2.88"/>
<ellipse cx="2466.0" cy="1970.0" rx="10.5" ry="14.0" transform="rotate(-154.0 2466.0 1970.0)" stroke-width="3.60"/>
<path d="M2472.3,1973.1 L2459.7,1966.9" stroke-width="2.52"/>
<path d="M2690.2,2136.9 L2665.7,2126.2 A7.4,7.4 0 0 0 2659.8,2139.7 L2684.4,2150.4" stroke-width="3.60"/>
<path d="M2681.8,2133.2 L2679.6,2148.3 M2672.7,2129.3 L2670.5,2144.3 M2663.6,2125.3 L2661.4,2140.4" stroke-width="2.88"/>
<ellipse cx="2695.0" cy="2147.0" rx="10.5" ry="14.0" transform="rotate(-156.4 2695.0 2147.0)" stroke-width="3.60"/>
<path d="M2701.4,2149.8 L2688.6,2144.2" stroke-width="2.52"/>
<path d="M1696.8,3569.2 L1670.3,3557.9 A7.9,7.9 0 0 0 1664.1,3572.3 L1690.6,3583.7" stroke-width="3.60"/>
<path d="M1687.9,3565.4 L1685.3,3581.4 M1678.1,3561.2 L1675.5,3577.2 M1668.3,3557.0 L1665.7,3573.0" stroke-width="2.88"/>
<ellipse cx="1702.0" cy="3580.0" rx="11.2" ry="15.0" transform="rotate(-156.8 1702.0 3580.0)" stroke-width="3.60"/>
<path d="M1708.9,3583.0 L1695.1,3577.0" stroke-width="2.52"/>
<path d="M2663.0,3562.6 L2636.9,3548.9 A7.4,7.4 0 0 0 2630.1,3561.9 L2656.1,3575.6" stroke-width="3.60"/>
<path d="M2654.0,3557.9 L2650.7,3572.7 M2644.6,3553.0 L2641.4,3567.8 M2635.3,3548.1 L2632.0,3562.9" stroke-width="2.88"/>
<ellipse cx="2667.0" cy="3573.0" rx="10.5" ry="14.0" transform="rotate(-152.3 2667.0 3573.0)" stroke-width="3.60"/>
<path d="M2673.2,3576.3 L2660.8,3569.7" stroke-width="2.52"/>
<path d="M1891.3,1038.4 L1773.9,968.3 A5.0,5.0 0 0 0 1768.7,976.9 L1886.2,1047.0" stroke-width="3.60"/>
<path d="M1859.6,1019.4 L1857.9,1030.1 M1849.5,1013.4 L1847.9,1024.1 M1839.5,1007.5 L1837.8,1018.1 M1829.5,1001.5 L1827.8,1012.1 M1819.4,995.5 L1817.8,1006.1 M1809.4,989.5 L1807.7,1000.1 M1799.4,983.5 L1797.7,994.1 M1789.3,977.5 L1787.7,988.2 M1779.3,971.5 L1777.6,982.2" stroke-width="2.88"/>
<ellipse cx="1896.0" cy="1047.0" rx="10.5" ry="14.0" transform="rotate(-149.2 1896.0 1047.0)" stroke-width="3.60"/>
<path d="M1902.0,1050.6 L1890.0,1043.4" stroke-width="2.52"/>
<path d="M2912,1592 L2912,1686" stroke-width="2.16"/>
</g><!-- bearings src coords -->
<g>
<path d="M897.6,2473.7 L877.6,2477.7 M902.4,2396.3 L882.4,2400.3" stroke-width="3.60"/>
<path d="M877.6,2477.7 A30.0,41.0 25 0 1 882.4,2400.3" stroke-width="3.60"/>
<ellipse cx="900.0" cy="2435.0" rx="30.0" ry="41.0" transform="rotate(25 900.0 2435.0)" stroke-width="3.60"/>
<ellipse cx="900.0" cy="2435.0" rx="21.6" ry="29.5" transform="rotate(25 900.0 2435.0)" stroke-width="2.88"/>
<ellipse cx="900.0" cy="2435.0" rx="13.5" ry="18.4" transform="rotate(25 900.0 2435.0)" stroke-width="2.88"/>
<ellipse cx="900.0" cy="2435.0" rx="6.6" ry="9.0" transform="rotate(25 900.0 2435.0)" stroke-width="2.88"/>
<path d="M1330.1,2966.8 L1302.1,2970.8 M1341.9,2897.2 L1313.9,2901.2" stroke-width="3.60"/>
<path d="M1302.1,2970.8 A24.0,37.0 25 0 1 1313.9,2901.2" stroke-width="3.60"/>
<ellipse cx="1336.0" cy="2932.0" rx="24.0" ry="37.0" transform="rotate(25 1336.0 2932.0)" stroke-width="3.60"/>
<ellipse cx="1336.0" cy="2932.0" rx="17.3" ry="26.6" transform="rotate(25 1336.0 2932.0)" stroke-width="2.88"/>
<ellipse cx="1336.0" cy="2932.0" rx="10.8" ry="16.7" transform="rotate(25 1336.0 2932.0)" stroke-width="2.88"/>
<ellipse cx="1336.0" cy="2932.0" rx="5.3" ry="8.1" transform="rotate(25 1336.0 2932.0)" stroke-width="2.88"/>
<path d="M2336.2,1626.1 L2323.2,1629.1 M2339.8,1567.9 L2326.8,1570.9" stroke-width="3.60"/>
<path d="M2323.2,1629.1 A22.0,31.0 25 0 1 2326.8,1570.9" stroke-width="3.60"/>
<ellipse cx="2338.0" cy="1597.0" rx="22.0" ry="31.0" transform="rotate(25 2338.0 1597.0)" stroke-width="3.60"/>
<ellipse cx="2338.0" cy="1597.0" rx="15.8" ry="22.3" transform="rotate(25 2338.0 1597.0)" stroke-width="2.88"/>
<ellipse cx="2338.0" cy="1597.0" rx="9.9" ry="14.0" transform="rotate(25 2338.0 1597.0)" stroke-width="2.88"/>
<ellipse cx="2338.0" cy="1597.0" rx="4.8" ry="6.8" transform="rotate(25 2338.0 1597.0)" stroke-width="2.88"/>
<path d="M1247.5,973.3 L1231.5,978.3 M1226.5,910.7 L1210.5,915.7" stroke-width="3.60"/>
<path d="M1231.5,978.3 A24.0,33.0 -20 0 1 1210.5,915.7" stroke-width="3.60"/>
<ellipse cx="1237.0" cy="942.0" rx="24.0" ry="33.0" transform="rotate(-20 1237.0 942.0)" stroke-width="3.60"/>
<ellipse cx="1237.0" cy="942.0" rx="17.3" ry="23.8" transform="rotate(-20 1237.0 942.0)" stroke-width="2.88"/>
<ellipse cx="1237.0" cy="942.0" rx="10.8" ry="14.8" transform="rotate(-20 1237.0 942.0)" stroke-width="2.88"/>
<ellipse cx="1237.0" cy="942.0" rx="5.3" ry="7.3" transform="rotate(-20 1237.0 942.0)" stroke-width="2.88"/>
</g><!-- part 36 worm shaft Vz [800,2250] s=0.41218 -->
<g transform="translate(800,2250) scale(0.41218)" stroke-width="8.40">
<path d="M358,525 Q365,505 385,512 L410,527 L395,565 L370,552 Q352,540 358,525 Z M372,515 L360,545 M385,520 L373,552 M398,527 L386,558" stroke-width="9.60"/>
<path d="M405,530 L470,568 M395,563 L462,603"/>
<path d="M455,600 Q470,555 510,568 L620,628 Q640,655 612,685 L500,640 Q445,628 455,600 Z" stroke-width="9.60"/>
<path d="M485,578 Q500,610 520,648 M515,590 Q530,625 552,660 M548,605 Q565,640 585,672 M580,618 Q598,650 605,680"/>
<path d="M615,640 L650,668 Q672,690 655,710 L605,685 M600,628 L590,690" stroke-width="9.60"/>
</g>
<!-- part 7 cord guard Wz [20,1080] s=0.25365 -->
<g transform="translate(20,1080) scale(0.25365)" stroke-width="14.40">
<path d="M1330,130 Q1400,90 1470,150 Q1530,230 1500,320 Q1470,380 1410,370 L1390,355" stroke-width="16.80"/>
<path d="M1330,130 Q1280,160 1285,200 M1310,145 Q1440,160 1440,300 Q1430,350 1390,355 M1345,150 Q1460,190 1445,330"/>
<path d="M1285,195 Q1100,290 890,455 M1390,355 L960,570" stroke-width="15.60"/>
<ellipse cx="862" cy="550" rx="68" ry="88" transform="rotate(30 862 550)" stroke-width="15.60"/>
<ellipse cx="845" cy="560" rx="48" ry="68" transform="rotate(30 845 560)"/>
<path d="M880,470 Q950,500 945,590"/>
</g>
<!-- part 24 belt guard Gz [290,1450] s=0.27267 -->
<g transform="translate(290,1450) scale(0.27267)" stroke-width="13.20">
<path d="M60,1950 Q20,1800 60,1650 Q120,1500 250,1400 Q380,1320 500,1250 Q560,1210 620,1100 L1100,230 Q1200,70 1330,50 Q1420,50 1480,100 Q1530,160 1510,280 L1400,560 L1140,1380 L1125,1620 L1000,1800 L580,2010 L550,1990 L460,2040 L470,2110 L350,2160 Q150,2130 60,1950 Z" stroke-width="16.80"/>
<path d="M175,1960 Q150,1780 250,1590 Q380,1450 560,1360 Q650,1300 700,1200 L790,1010 M790,980 L1300,150 Q1360,100 1400,100 Q1470,120 1490,200 L1480,290 L1260,830 M1220,820 L1090,1360 L1140,1380"/>
<path d="M200,1960 Q180,1790 270,1610 Q400,1470 580,1380 Q670,1320 720,1220 L800,1020 M810,990 L1310,170 Q1370,120 1410,125 Q1455,140 1470,210 L1460,290 L1240,830 M1250,835 L1280,800"/>
<path d="M230,2060 L440,2040 L450,1990 L550,1960 L560,2000 L1000,1790 M280,1940 L350,1920"/>
<ellipse cx="700" cy="1480" rx="200" ry="290" transform="rotate(25 700 1480)"/>
<path d="M1150,560 Q1190,520 1240,540 L1285,600 Q1270,650 1230,650 L1150,610 Z M1030,720 L1080,660 L1180,720 L1140,800 Z M1060,720 L1150,760"/>
<ellipse cx="1235" cy="610" rx="28" ry="32"/>
<path d="M980,905 L1080,845 Q1110,850 1090,880 L995,935 Q965,935 980,905 Z M870,950 Q890,940 920,1000 L990,1000 L1000,1100 Q960,1140 910,1090 L830,1060 L830,1010 Z M780,985 L830,1010"/>
<ellipse cx="955" cy="1085" rx="38" ry="48"/>
</g>
<!-- part 39 handle + knurl block Xz [1300,2100] s=0.41852 -->
<g transform="translate(1300,2100) scale(0.41852)" stroke-width="8.40">
<path d="M670,515 L990,425 Q1050,410 1090,425 L1540,650 Q1565,700 1555,800 L1525,805 L1500,740 L1460,690 L1430,700 L1420,720 L1400,715 L1380,740 L1360,735 L1340,780 L1300,770 L1270,800 L1240,790 L1200,810 L1170,800 L1130,760 Q1080,700 1000,640 L880,590 L780,640 L740,655 L700,640 L680,575" stroke-width="10.80"/>
<path d="M880,595 L1130,515 L1370,600 Q1395,620 1380,640 L1150,745 M1150,745 L1490,650 M1000,640 L1020,860 M1060,690 L1040,870 M1410,690 L1440,780"/>
<ellipse cx="1483" cy="712" rx="22" ry="30" transform="rotate(20 1483 712)"/>
<path d="M690,760 L730,740 L790,770 L790,860 L740,875 L690,840 Z M700,790 L780,800 M700,815 L780,830 M690,840 L770,850 M730,740 L740,800" stroke-width="9.60"/>
</g>
<!-- main body gear face + pipe Mz [1180,2130] s=0.25365 -->
<g transform="translate(1180,2130) scale(0.25365)" stroke-width="14.40">
<path d="M110,610 L440,500 Q560,530 600,640 Q620,720 580,810 L260,950" stroke-width="16.80"/>
<ellipse cx="200" cy="780" rx="112" ry="172" transform="rotate(30 200 780)" stroke-width="16.80"/>
<ellipse cx="195" cy="775" rx="80" ry="135" transform="rotate(30 195 775)"/>
<path d="M470,510 Q580,540 600,650"/>
<path d="M640,260 Q700,190 780,195 Q830,230 810,290 L740,320 Q680,310 640,260 Z M620,350 L700,400"/>
<path d="M700,440 L1340,150 Q1420,200 1440,300 L1540,700 M700,440 Q660,560 660,700 L650,1100 Q640,1250 600,1350 M600,1350 L1540,1140" stroke-width="14.40"/>
<path d="M760,480 L820,460 L880,430 L930,400 L1130,310 L1200,290 Q1300,320 1340,380 M760,480 Q780,540 760,600 L720,640 Q700,760 710,900 L690,960 Q690,1050 720,1150 L840,1270"/>
<ellipse cx="990" cy="770" rx="280" ry="430" transform="rotate(20 990 770)"/>
<path d="M1180,340 Q1330,500 1300,800 Q1270,1050 1060,1210 M1250,330 Q1400,520 1370,820 Q1340,1080 1120,1240"/>
<ellipse cx="925" cy="745" rx="160" ry="215" transform="rotate(20 925 745)" stroke-width="16.80"/>
<ellipse cx="925" cy="748" rx="120" ry="165" transform="rotate(20 925 748)"/>
<ellipse cx="920" cy="752" rx="80" ry="112" transform="rotate(20 920 752)"/>
<ellipse cx="915" cy="755" rx="50" ry="72" transform="rotate(20 915 755)" stroke-width="16.80"/>
<ellipse cx="912" cy="758" rx="24" ry="36" transform="rotate(20 912 758)"/>
<ellipse cx="1350" cy="240" rx="45" ry="70" transform="rotate(25 1350 240)"/>
<ellipse cx="1460" cy="880" rx="48" ry="80" transform="rotate(25 1460 880)"/>
<path d="M1320,700 L1400,690 L1360,1000 L1290,1010 Z M1200,1000 L1280,1060 L1250,1110 M1300,1050 L1310,1150 M1380,960 Q1480,980 1490,1060 M1440,660 Q1500,700 1520,760"/>
<path d="M640,1160 Q700,1180 700,1240 L640,1330 M700,1260 Q760,1250 820,1290 L700,1330 Q660,1300 690,1260 M600,1330 L620,1200"/>
<path d="M380,920 L340,1060 L150,1577 M470,960 L450,1150 L300,1400 M380,1060 L470,1120 Q480,1200 420,1300 L320,1450" stroke-width="14.40"/>
<path d="M930,760 L1577,1130" stroke-width="7.20"/>
</g>
<!-- main body lower interior Nz [1180,2480] s=0.31706 -->
<g transform="translate(1180,2480) scale(0.31706)" stroke-width="12.00">
<path d="M0,480 Q120,320 400,190 L830,0 M0,560 Q130,390 420,250 L900,30" stroke-width="14.40"/>
<path d="M20,880 Q30,620 170,480 Q260,410 430,300 L530,215"/>
<path d="M40,760 L70,740 M60,560 L140,540 L160,620 L110,650 M60,820 L130,800 L150,860 L90,900"/>
<path d="M160,720 Q170,560 300,500 L400,490 Q450,480 480,520" stroke-width="10.80"/>
<path d="M230,580 Q280,545 370,555 L590,680 M300,860 L490,925" stroke-width="14.40"/>
<path d="M230,580 Q160,650 170,760 Q190,850 300,862" stroke-width="14.40"/>
<ellipse cx="540" cy="810" rx="88" ry="125" transform="rotate(25 540 810)" stroke-width="15.60"/>
<ellipse cx="540" cy="812" rx="62" ry="95" transform="rotate(25 540 812)"/>
<path d="M440,430 Q480,390 540,400 L590,440" stroke-width="10.80"/>
<ellipse cx="548" cy="520" rx="55" ry="78" transform="rotate(25 548 520)" stroke-width="14.40"/>
<ellipse cx="550" cy="525" rx="30" ry="46" transform="rotate(25 550 525)"/>
<path d="M590,470 L1050,740 M570,600 L1020,860" stroke-width="14.40"/>
<ellipse cx="1045" cy="815" rx="36" ry="52" transform="rotate(25 1045 815)" stroke-width="14.40"/>
<ellipse cx="1045" cy="818" rx="14" ry="22" transform="rotate(25 1045 818)"/>
<path d="M420,250 L530,210 L1300,580 L1300,760 L1270,760 L1270,700 L1050,610 M650,310 L1270,620 M660,350 L1270,660 M600,440 L1050,620 L1050,760" stroke-width="12.00"/>
<path d="M620,880 L1050,1090 L1230,990 L1240,955 L1280,950 L1300,920 L1577,770 M1080,870 L1220,935 L1250,910 L1577,740" stroke-width="14.40"/>
<path d="M660,130 L720,110 L800,200 L800,320 L760,330 L740,220 Z M730,260 L790,300 M650,310 L760,320"/>
<path d="M920,100 Q950,50 1000,70 Q1030,110 1000,150 L1000,360 L960,380 L940,150 Z M1040,160 Q1080,110 1140,140 Q1160,190 1130,230 L1140,330 L1100,350 L1080,230 Z M880,350 L1140,230 M870,335 L1130,215 M1000,360 L1370,180" stroke-width="10.80"/>
<path d="M520,790 L650,870 M100,1190 L560,905 M100,1190 L330,1325" stroke-width="7.20"/>
</g>
<!-- part 4 brush cover Pz [1290,450] s=0.17121 -->
<g transform="translate(1290,450) scale(0.17121)" stroke-width="20.40">
<path d="M125,430 Q200,370 300,350 Q450,300 600,200 Q700,120 850,100 L1050,100 Q1300,150 1420,330 Q1500,500 1450,700 Q1400,870 1200,900 Q1000,950 900,1150 L850,1290 L800,1300" stroke-width="24.00"/>
<path d="M150,390 L270,380 L790,690 Q850,740 860,850 L855,1250 Q840,1295 800,1285 L180,900 Q130,860 125,760 L120,460 Q125,410 150,390 Z" stroke-width="24.00"/>
<path d="M200,440 L270,450 L760,740 Q820,790 820,880 L820,1200 Q810,1240 770,1230 L220,890 Q180,860 170,780 L165,500 Q170,450 200,440 Z"/>
<path d="M280,500 L620,720 Q650,760 650,800 L700,1180 M620,710 Q690,760 700,800 L750,1170 M270,880 L610,760 M300,920 L640,800 M180,560 L280,490 M180,720 L270,880 M700,1180 L820,1120"/>
<path d="M920,680 L1230,540 M940,720 L1260,580 M960,760 L1280,620 M980,800 L1300,660 M1230,530 L1300,680 M920,680 L990,820" stroke-width="16.80"/>
<path d="M820,660 Q1100,490 1360,370 M1200,840 Q1300,760 1370,700"/>
<ellipse cx="1255" cy="810" rx="58" ry="30" transform="rotate(-20 1255 810)" stroke-width="16.80"/>
<ellipse cx="1290" cy="795" rx="18" ry="25" fill="#111"/>
</g>
<!-- part 27 fan Fz [970,1680] s=0.13316 -->
<g transform="translate(970,1680) scale(0.13316)" stroke-width="26.40">
<path d="M270,1400 Q140,1200 190,900 Q240,560 500,300 Q750,100 1000,95 L1210,230" stroke-width="33.60"/>
<path d="M270,1400 Q400,1490 620,1495 Q850,1470 1030,1310 L1200,1080 L1300,840 L1345,590 L1315,380 L1210,230" stroke-width="31.20"/>
<path d="M310,1340 Q205,1150 245,900 Q295,600 520,365 Q750,160 990,135"/>
<path d="M587,336 L687,566 L713,554 L613,324 M786,201 L816,501 L844,499 L814,199 M936,158 L886,478 L914,482 L964,162 M1118,253 L988,493 L1012,507 L1142,267 M373,572 L633,732 L647,708 L387,548 M257,834 L557,894 L563,866 L263,806 M232,1064 L542,1014 L538,986 L228,1036 M308,1262 L568,1092 L552,1068 L292,1238 M573,1356 L663,1156 L637,1144 L547,1344" stroke-width="24.00"/>
<path d="M1093,316 L1293,406 L1307,374 L1107,284 M1144,537 L1324,597 L1336,563 L1156,503 M1146,818 L1286,848 L1294,812 L1154,782 M1090,1015 L1180,1075 L1200,1045 L1110,985 M933,1157 L993,1307 L1027,1293 L967,1143 M782,1232 L812,1452 L848,1448 L818,1228 M602,1249 L592,1479 L628,1481 L638,1251 M442,1298 L422,1448 L458,1452 L478,1302 M1043,197 L1213,267 L1227,233 L1057,163" stroke-width="26.40"/>
<path d="M700,650 Q900,500 1040,560 Q1130,650 1100,880 Q1050,1080 900,1180 L680,1220 Q560,1150 600,900 Q620,760 700,650 Z" stroke-width="28.80"/>
<path d="M660,820 Q700,700 800,710 L930,800 Q950,900 900,980 L820,1020 Q700,1000 660,900 Z M800,800 Q760,900 830,1010" stroke-width="26.40"/>
<path d="M1040,560 Q1150,600 1130,850 Q1100,1060 930,1200" stroke-width="24.00"/>
</g>
<!-- part 28 knob Rz [1240,1760] s=0.11414 -->
<g transform="translate(1240,1760) scale(0.11414)" stroke-width="31.20">
<path d="M300,800 Q350,550 520,430 Q640,380 760,420 L900,500 Q1000,560 1030,700 Q1050,900 950,1080 Q840,1240 640,1240 L480,1150 Q290,1000 300,800 Z" stroke-width="40.80"/>
<path d="M336,1026 L596,1086 M320,974 L580,1034 M315,916 L575,976 M321,853 L581,913 M339,788 L599,848 M367,725 L627,785 M404,666 L664,726 M449,615 L709,675 M499,573 L759,633 M552,543 L812,603 M605,526 L865,586 M657,523 L917,583 M703,535 L963,595" stroke-width="28.80"/>
<ellipse cx="820" cy="880" rx="215" ry="320" transform="rotate(30 820 880)" stroke-width="33.60"/>
<ellipse cx="825" cy="885" rx="170" ry="255" transform="rotate(30 825 885)" stroke-width="21.60"/>
<path d="M800,860 L1340,1110 Q1400,1160 1370,1230 Q1330,1290 1270,1270 L790,1030" stroke-width="36.00"/>
<path d="M932,914 L862,1074 M975,934 L905,1094 M1018,954 L948,1114 M1062,973 L992,1133 M1105,993 L1035,1153 M1148,1012 L1078,1172 M1192,1032 L1122,1192 M1235,1051 L1165,1211 M1278,1071 L1208,1231 M1322,1090 L1252,1250" stroke-width="19.20"/>
<ellipse cx="1318" cy="1195" rx="42" ry="72" transform="rotate(30 1318 1195)" stroke-width="21.60"/>
</g>

</g>
<g id="labels" font-family="Liberation Sans, sans-serif" font-size="59" fill="#111" stroke="#fff" stroke-width="2" text-anchor="middle"><text x="681" y="349">1</text><text x="942" y="499">2</text><text x="1100" y="462">15</text><text x="1232" y="379">14</text><text x="1407" y="374">4</text><text x="1636" y="317">5</text><text x="1228" y="822">10</text><text x="1315" y="842">11</text><text x="1495" y="852">12</text><text x="1837" y="892">13</text><text x="1685" y="1469">17</text><text x="1957" y="1604">16</text><text x="2225" y="1337">18</text><text x="2345" y="1462">19</text><text x="2720" y="1537">20</text><text x="2175" y="1897">60</text><text x="322" y="1044">7</text><text x="477" y="1407">8</text><text x="627" y="1444">9</text><text x="396" y="1537">66</text><text x="795" y="1512">25</text><text x="913" y="1554">26</text><text x="317" y="2157">24</text><text x="645" y="2084">67</text><text x="1095" y="1587">27</text><text x="1325" y="1712">28</text><text x="1467" y="1794">29</text><text x="1587" y="1867">30</text><text x="1190" y="1894">31</text><text x="2433" y="2112">22</text><text x="2536" y="2332">23</text><text x="2683" y="2309">64</text><text x="2306" y="2519">45</text><text x="2468" y="2597">46</text><text x="431" y="2342">32</text><text x="515" y="2444">33</text><text x="644" y="2629">34</text><text x="909" y="2289">35</text><text x="1044" y="2399">36</text><text x="846" y="2804">37</text><text x="1852" y="2217">39</text><text x="2041" y="2369">43</text><text x="2180" y="2472">44</text><text x="1852" y="2817">47</text><text x="2368" y="2919">48</text><text x="2524" y="3019">49</text><text x="2238" y="3252">51</text><text x="2426" y="3252">50</text><text x="2072" y="3207">52</text><text x="1945" y="3319">53</text><text x="1841" y="3357">54</text><text x="1691" y="3457">57</text><text x="564" y="2965">68</text><text x="1295" y="3106">40</text><text x="1424" y="3184">41</text><text x="1622" y="3270">42</text><text x="1564" y="3376">62</text><text x="1095" y="3254">58</text><text x="1012" y="3567">61</text><text x="2318" y="3533">56</text><text x="2654" y="3451">55</text><text x="2901" y="1589">65</text></g>
</svg>
<div id="title">9404X - LEVIGATRICE A NASTRO 100X610MM</div>
<div id="pag">Pagina 1/2</div>
</body></html>
